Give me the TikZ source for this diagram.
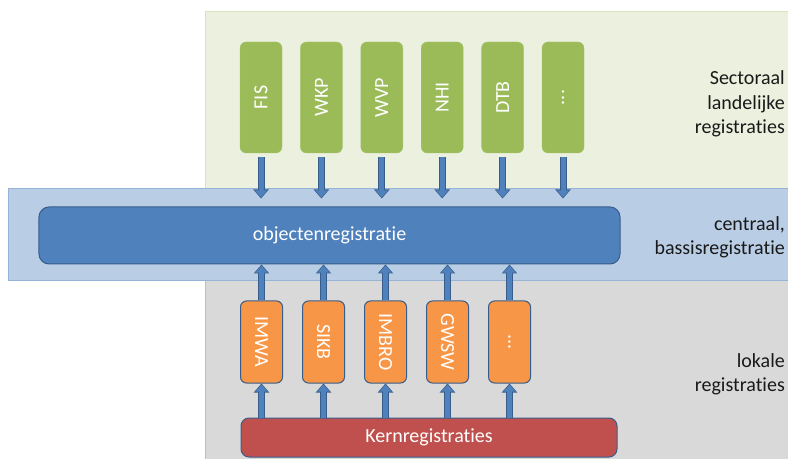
\documentclass[tikz,border=0pt]{standalone}
\usepackage{fontspec}
\setmainfont{Carlito}[Ligatures=CommonOff]
\usepackage{graphicx}
\usetikzlibrary{positioning,arrows.meta}

\definecolor{sectorbg}{HTML}{EBF1DE}
\definecolor{sectorline}{HTML}{D7E4BD}
\definecolor{sectorgreen}{HTML}{9BBB59}
\definecolor{centralbg}{HTML}{B9CDE5}
\definecolor{centralline}{HTML}{95B3D7}
\definecolor{localbg}{HTML}{D9D9D9}
\definecolor{localline}{HTML}{BFBFBF}
\definecolor{localorange}{HTML}{F79646}
\definecolor{kernred}{HTML}{C0504D}
\definecolor{arrowblue}{HTML}{4F81BD}
\definecolor{boxline}{HTML}{385D8A}

\tikzset{
  every node/.style={font=\fontsize{20bp}{24.4bp}\selectfont},
  regbox/.style={rounded corners=6bp, inner sep=0pt, text=white},
  sectorbox/.style={regbox, fill=sectorgreen, draw=sectorgreen!85!white, minimum width=42bp, minimum height=111bp},
  localbox/.style={regbox, fill=localorange, draw=boxline, line width=1bp, minimum width=42bp, minimum height=82bp},
  flow/.style={preaction={draw=boxline, line width=7bp, -{Triangle[length=9bp,width=15bp]}},
    draw=arrowblue, line width=5bp, -{Triangle[length=7bp,width=12bp,sep=1.2bp]}},
  layerlabel/.style={anchor=east, align=right, inner sep=0pt, text=black!90}
}

\begin{document}
\begin{tikzpicture}[x=1bp, y=-1bp]
\useasboundingbox (0,0) rectangle (788,459);
% lagen
\filldraw[fill=sectorbg, draw=sectorline, line width=1bp] (205,12) rectangle (792,189);
\filldraw[fill=localbg, draw=localline, line width=1bp] (205,281) rectangle (792,462);
\filldraw[fill=centralbg, draw=centralline, line width=1bp] (8,189) rectangle (792,281);

% sectorale registraties
\node (FIS) [sectorbox] at (261,97.5) {\rotatebox{90}{FIS}};
\node (WKP) [sectorbox, right=18bp of FIS] {\rotatebox{90}{WKP}};
\node (WVP) [sectorbox, right=18bp of WKP] {\rotatebox{90}{WVP}};
\node (NHI) [sectorbox, right=18bp of WVP] {\rotatebox{90}{NHI}};
\node (DTB) [sectorbox, right=18bp of NHI] {\rotatebox{90}{DTB}};
\node (sector-more) [sectorbox, right=18bp of DTB] {\rotatebox{90}{...}};

% centrale registratie
\node (objreg) [regbox, rounded corners=10bp, fill=arrowblue, draw=boxline, line width=1bp,
  minimum width=581bp, minimum height=57bp] at (329.5,235.5) {objectenregistratie};

% lokale registraties
\node (IMWA) [localbox] at (261.5,342) {\rotatebox{-90}{IMWA}};
\node (SIKB) [localbox, right=19bp of IMWA] {\rotatebox{-90}{SIKB}};
\node (IMBRO) [localbox, right=19bp of SIKB] {\rotatebox{-90}{IMBRO}};
\node (GWSW) [localbox, right=19bp of IMBRO] {\rotatebox{-90}{GWSW}};
\node (local-more) [localbox, right=19bp of GWSW] {\rotatebox{-90}{...}};

\node (kern) [regbox, rounded corners=8bp, fill=kernred, draw=boxline, line width=1bp,
  minimum width=376bp, minimum height=39bp] at (429,437.5) {Kernregistraties};

% labels
\node (sector-label) [layerlabel] at (785,104) {Sectoraal\\landelijke\\registraties};
\node (central-label) [layerlabel] at (785,237) {centraal,\\bassisregistratie};
\node (local-label) [layerlabel] at (785,374) {lokale\\registraties};

% pijlen naar objectenregistratie
\draw[flow] ([yshift=-4bp]FIS.south) -- ([yshift=8bp]FIS.south |- objreg.north);
\draw[flow] ([yshift=-4bp]WKP.south) -- ([yshift=8bp]WKP.south |- objreg.north);
\draw[flow] ([yshift=-4bp]WVP.south) -- ([yshift=8bp]WVP.south |- objreg.north);
\draw[flow] ([yshift=-4bp]NHI.south) -- ([yshift=8bp]NHI.south |- objreg.north);
\draw[flow] ([yshift=-4bp]DTB.south) -- ([yshift=8bp]DTB.south |- objreg.north);
\draw[flow] ([yshift=-4bp]sector-more.south) -- ([yshift=8bp]sector-more.south |- objreg.north);
\draw[flow] (IMWA.north) -- (IMWA.north |- objreg.south);
\draw[flow] (SIKB.north) -- (SIKB.north |- objreg.south);
\draw[flow] (IMBRO.north) -- (IMBRO.north |- objreg.south);
\draw[flow] (GWSW.north) -- (GWSW.north |- objreg.south);
\draw[flow] (local-more.north) -- (local-more.north |- objreg.south);
% pijlen vanuit kernregistraties
\draw[flow] (IMWA.south |- kern.north) -- (IMWA.south);
\draw[flow] (SIKB.south |- kern.north) -- (SIKB.south);
\draw[flow] (IMBRO.south |- kern.north) -- (IMBRO.south);
\draw[flow] (GWSW.south |- kern.north) -- (GWSW.south);
\draw[flow] (local-more.south |- kern.north) -- (local-more.south);
\end{tikzpicture}
\end{document}
